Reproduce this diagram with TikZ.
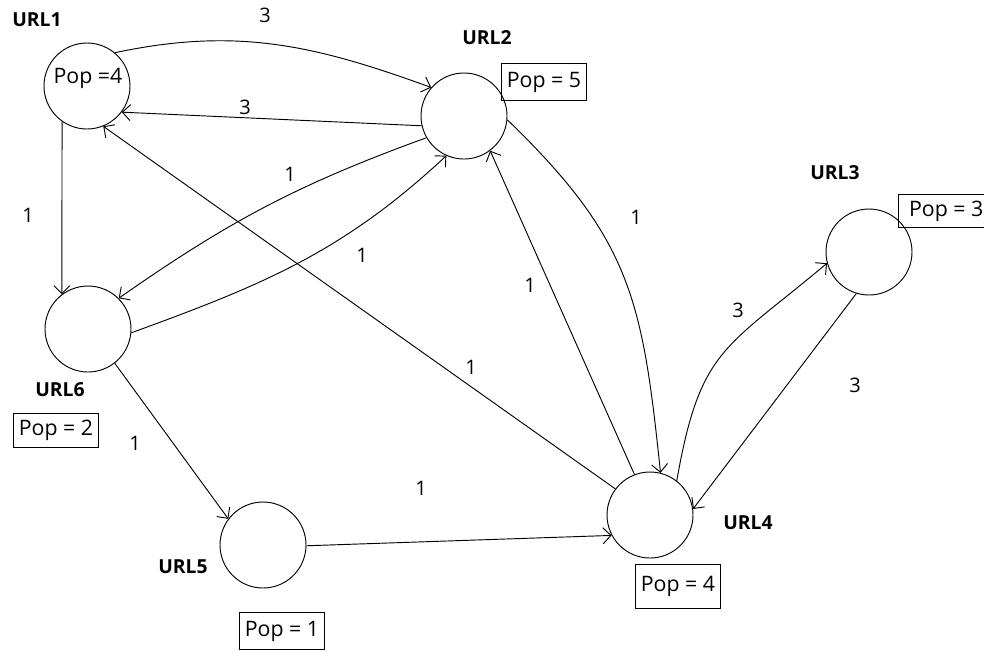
\documentclass[tikz,border=0pt]{standalone}
\usepackage{fontspec}
\setmainfont{Open Sans}
\usetikzlibrary{arrows.meta,positioning}

\begin{document}
\begin{tikzpicture}[x=0.75pt, y=-0.75pt, line width=0.7pt,
  >={Straight Barb[length=6pt,width=12pt]},
  page/.style={circle, draw, minimum size=64.5pt, inner sep=0pt},
  popbox/.style={draw, font=\fontsize{16}{19}\selectfont, minimum height=28pt, inner xsep=4pt},
  urltag/.style={font=\bfseries\fontsize{14.5}{17}\selectfont},
  wt/.style={font=\fontsize{15}{17}\selectfont}]
\useasboundingbox (0,0) rectangle (984,651);
\newcommand{\webpage}[2]{\node [page] (#1) at #2 {}}
\webpage{u1}{(87,86)};
\webpage{u2}{(464,116)};
\webpage{u3}{(869,252)};
\webpage{u4}{(650,515)};
\webpage{u5}{(263,545)};
\webpage{u6}{(88,329)};

\node [urltag] (t1) at (37,20) {URL1};
\node [urltag] (t2) at (487,38) {URL2};
\node [urltag] (t3) at (835,173) {URL3};
\node [urltag] (t4) at (748,523) {URL4};
\node [urltag] (t5) at (183,567) {URL5};
\node [urltag] (t6) at (60,390) {URL6};

\node [font=\fontsize{16}{19}\selectfont] (p1) at (88,78) {Pop =4};
\node [popbox] (p2) at (544,82) {Pop = 5};
\node [popbox, anchor=west, inner xsep=8pt, minimum height=25pt] (p3) at (898,211) {Pop = 3};
\node [popbox, minimum height=33pt] (p4) at (678,586) {Pop = 4};
\node [popbox] (p5) at (282,631) {Pop = 1};
\node [popbox, minimum height=25.5pt] (p6) at (56,430) {Pop = 2};

\draw [->] (u1.50) to [out=12, in=160] (u2.139);
\draw [->] (u2.193) -- (u1.323);
\draw [->] (u1.235) -- (u6.127);
\draw [->] (u2.210) to [out=200, in=35] (u6.45);
\draw [->] (u6.355) to [out=20, in=223] (u2.246);
\draw [->] (u4.143) -- (u1.292);
\draw [->] (u4.111) -- (u2.307);
\draw [->] (u2.355) to [out=-44, in=96, looseness=1.15] (u4.76);
\draw [->] (u4.52) to [out=80, in=220, looseness=1.3] (u3.195);
\draw [->] (u3.253) -- (u4.8);
\draw [->] (u6.308) -- (u5.143);
\draw [->] (u5.359) -- (u4.208);

\node [wt] (w12) at (265,15) {3};
\node [wt] (w21) at (245,107) {3};
\node [wt] (w16) at (28,215) {1};
\node [wt] (w26) at (290,174) {1};
\node [wt] (w62) at (362,255) {1};
\node [wt] (w41) at (471,367) {1};
\node [wt] (w42) at (530,285) {1};
\node [wt] (w24) at (636,217) {1};
\node [wt] (w43) at (738,310) {3};
\node [wt] (w34) at (855,385) {3};
\node [wt] (w65) at (135,443) {1};
\node [wt] (w54) at (421,488) {1};
\end{tikzpicture}
\end{document}
